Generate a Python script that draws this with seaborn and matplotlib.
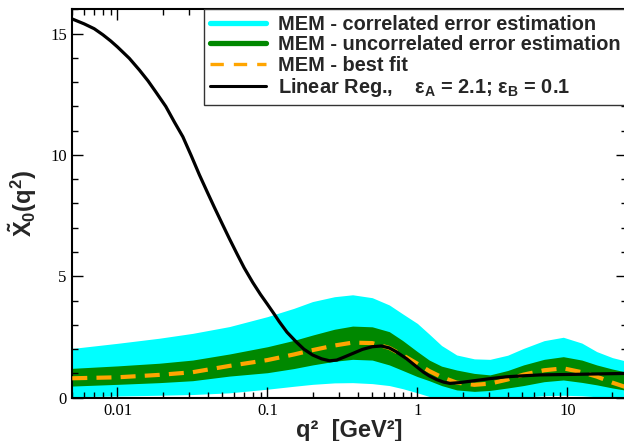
import numpy as np
import pandas as pd
import matplotlib
matplotlib.use("Agg")
import matplotlib.pyplot as plt
from matplotlib.lines import Line2D
from matplotlib.ticker import LogLocator, FixedLocator, MultipleLocator, FuncFormatter
import seaborn as sns

sns.set_style("white")
plt.rcParams["mathtext.fontset"] = "custom"
plt.rcParams["mathtext.rm"] = "Liberation Sans:bold"
plt.rcParams["mathtext.it"] = "Liberation Sans:bold"
plt.rcParams["mathtext.bf"] = "Liberation Sans:bold"
plt.rcParams["font.family"] = ["Liberation Sans", "DejaVu Sans"]

# ---- data ----
q2_band = [0.005, 0.01, 0.019, 0.0317, 0.0558, 0.1, 0.15, 0.2, 0.28, 0.37, 0.5,
           0.65, 0.8, 1.0, 1.2, 1.45, 1.83, 2.4, 3.05, 4.0, 5.1, 7.0, 9.4, 12.5,
           15.7, 20, 25]
corr_hi = [2.03, 2.24, 2.45, 2.65, 2.93, 3.34, 3.68, 3.96, 4.16, 4.24, 4.12,
           3.82, 3.45, 3.06, 2.62, 2.15, 1.76, 1.6, 1.58, 1.75, 2.03, 2.35, 2.49, 2.25,
           1.9, 1.65, 1.5]
corr_lo = [0.04, 0.07, 0.10, 0.13, 0.2, 0.35, 0.47, 0.55, 0.61, 0.62, 0.58,
           0.5, 0.37, 0.2, 0.05, -0.03, -0.06, -0.07, -0.05, -0.01, 0.03, 0.08, 0.1, 0.08,
           0.04, 0.0, -0.02]
unc_hi = [1.21, 1.31, 1.42, 1.55, 1.8, 2.10, 2.36, 2.58, 2.82, 2.95, 2.92,
          2.72, 2.35, 1.9, 1.55, 1.3, 1.14, 1.0, 0.94, 1.12, 1.35, 1.58, 1.69, 1.55,
          1.35, 1.18, 1.05]
unc_lo = [0.48, 0.55, 0.62, 0.70, 0.89, 1.03, 1.2, 1.35, 1.5, 1.58, 1.55,
          1.35, 1.12, 0.87, 0.7, 0.5, 0.32, 0.26, 0.3, 0.4, 0.5, 0.66, 0.73, 0.63,
          0.53, 0.4, 0.3]
best_fit = [0.80, 0.84, 0.94, 1.05, 1.31, 1.55, 1.78, 1.96, 2.15, 2.27, 2.25,
            2.05, 1.75, 1.4, 1.1, 0.85, 0.62, 0.53, 0.58, 0.75, 0.95, 1.13, 1.21, 1.05,
            0.87, 0.62, 0.42]

q2_lin = [0.005, 0.006, 0.007, 0.008, 0.009, 0.01, 0.012, 0.014, 0.016, 0.018,
          0.021, 0.024, 0.0273, 0.031, 0.0352, 0.04, 0.0443, 0.05, 0.0558, 0.063,
          0.07, 0.0798, 0.09, 0.1, 0.11, 0.12, 0.135, 0.155, 0.175, 0.2, 0.23, 0.26,
          0.29, 0.33, 0.38, 0.43, 0.5, 0.575, 0.65, 0.72, 0.85, 1.0, 1.1, 1.2, 1.34,
          1.5, 1.65, 1.9, 2.2, 3.0, 3.9, 5.0, 6.6, 10.8, 16, 25]
lin_reg = [15.6, 15.4, 15.2, 14.95, 14.7, 14.45, 13.98, 13.5, 13.05, 12.6,
           12.0, 11.35, 10.75, 9.98, 9.18, 8.43, 7.84, 7.16, 6.55, 5.9,
           5.35, 4.75, 4.25, 3.85, 3.48, 3.13, 2.7, 2.31, 2.0, 1.76, 1.6, 1.52,
           1.55, 1.69, 1.85, 1.99, 2.1, 2.13, 2.05, 1.9, 1.6, 1.25, 1.05, 0.9, 0.75,
           0.64, 0.59, 0.62, 0.67, 0.78, 0.86, 0.9, 0.94, 0.96, 0.98, 1.0]

x_ticks = [0.01, 0.1, 1, 10]
x_ticklabels = ["0.01", "0.1", "1", "10"]
y_ticks = [0, 5, 10, 15]

legend_labels = ["MEM - correlated error estimation",
                 "MEM - uncorrelated error estimation",
                 "MEM - best fit",
                 "Linear Reg.,    ε$_\\mathrm{A}$ = 2.1; ε$_\\mathrm{B}$ = 0.1"]

CYAN = "#00FFFF"
GREEN = "#008800"
ORANGE = "#FFA500"

W, H = 624, 441
fig = plt.figure(figsize=(W / 100, H / 100), dpi=100)
left, right, top, bottom = 72.3, 627, 9.3, 397.7
ax = fig.add_axes([left / W, 1 - bottom / H, (right - left) / W, (bottom - top) / H])

band_df = pd.DataFrame({"q2": q2_band, "best": best_fit})
lin_df = pd.DataFrame({"q2": q2_lin, "lin": lin_reg})

ax.fill_between(q2_band, corr_lo, corr_hi, color=CYAN, lw=0, zorder=1)
ax.fill_between(q2_band, unc_lo, unc_hi, color=GREEN, lw=0, zorder=1.1)
sns.lineplot(data=band_df, x="q2", y="best", ax=ax, color=ORANGE, lw=3.0,
             zorder=3)
ax.lines[-1].set_dashes([3.6, 2.2])
sns.lineplot(data=lin_df, x="q2", y="lin", ax=ax, color="black", lw=2.3, zorder=4)
ax.set_axisbelow(False)

ax.set_xscale("log")
ax.set_xlim(0.005, 25)
ax.set_ylim(0, 16)

ax.xaxis.set_major_locator(FixedLocator(x_ticks))
ax.xaxis.set_major_formatter(FuncFormatter(lambda v, p: x_ticklabels[x_ticks.index(v)] if v in x_ticks else ""))
ax.xaxis.set_minor_locator(LogLocator(base=10, subs=np.arange(2, 10), numticks=50))
ax.xaxis.set_minor_formatter(FuncFormatter(lambda v, p: ""))
ax.yaxis.set_major_locator(FixedLocator(y_ticks))
ax.yaxis.set_minor_locator(MultipleLocator(1))

for lab in ax.get_xticklabels() + ax.get_yticklabels():
    lab.set_fontfamily("Liberation Serif")
    lab.set_fontsize(12)
ax.tick_params(which="both", direction="in", top=True, right=True, bottom=True,
               left=True, colors="black", width=1.0)
ax.tick_params(which="major", length=8, pad=4)
ax.tick_params(which="minor", length=4)
for s in ax.spines.values():
    s.set_linewidth(1.5)
    s.set_color("black")

ax.set_xlabel("q²  [GeV²]", fontsize=17, fontweight="bold", labelpad=0)
ax.set_ylabel(r"$\tilde{\mathrm{X}}_0(\mathrm{q}^2)$", fontsize=17, labelpad=8)

handles = [Line2D([], [], color=CYAN, lw=3.8),
           Line2D([], [], color=GREEN, lw=3.8),
           Line2D([], [], color=ORANGE, lw=2.4, dashes=[4, 3]),
           Line2D([], [], color="black", lw=2.2)]
leg = ax.legend(handles, legend_labels, loc="upper right", bbox_to_anchor=(1.0, 1.0),
                borderaxespad=0, frameon=True, fancybox=False, framealpha=1,
                edgecolor="#333333", prop={"family": "Liberation Sans", "weight": "bold", "size": 14.4},
                handlelength=2.8, handletextpad=0.6, labelspacing=0.06, borderpad=0.3)
leg.get_frame().set_linewidth(1.0)

fig.savefig("out.png", dpi=100)
